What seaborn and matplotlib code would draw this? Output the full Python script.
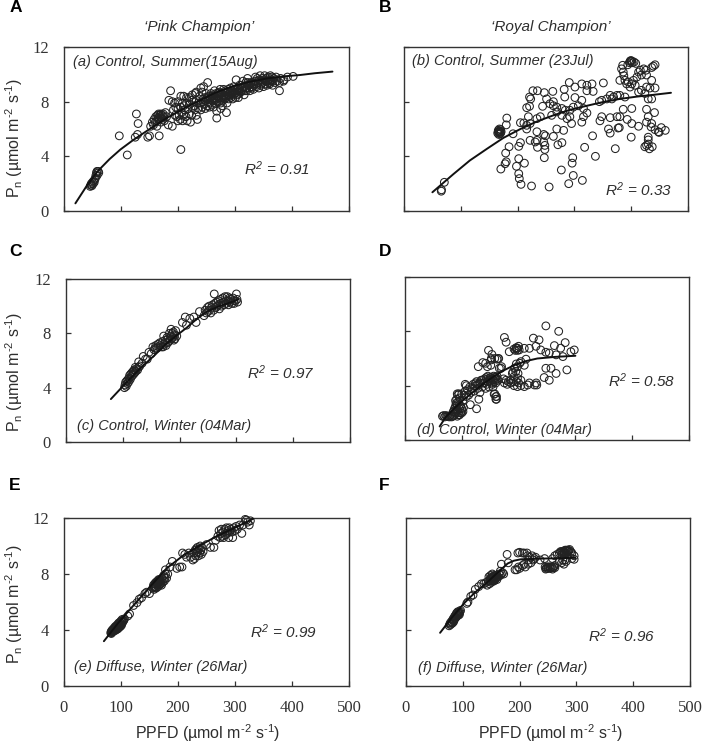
import matplotlib
matplotlib.use("Agg")
import matplotlib.pyplot as plt
import pandas as pd
import seaborn as sns

sns.set_theme(style="white")
plt.rcParams["font.family"] = ["Liberation Sans", "DejaVu Sans"]
plt.rcParams["mathtext.fontset"] = "custom"
plt.rcParams["mathtext.rm"] = "Liberation Sans"
plt.rcParams["mathtext.it"] = "Liberation Sans:italic"
plt.rcParams["mathtext.default"] = "regular"

# ---- data: (PPFD, Pn) ----
pts_a = [(46,1.8),(47,1.9),(48,2.0),(49,1.85),(50,2.1),(51,2.0),(52,2.2),(53,2.1),(54,2.3),(55,2.4),(56,2.6),(57,2.8),(58,2.9),(60,2.9),(61,2.8),(58,2.6),
 (97,5.5),(111,4.1),(125,5.4),(127,7.1),(130,6.4),(129,5.6),(147,5.4),(150,5.5),(167,5.5),(205,4.5),(187,8.8),(184,8.1),(190,8.0),(194,7.9),(196,7.6),(210,8.4),(220,8.3),(240,9.0),(252,9.4),(245,9.1),(268,6.8),(285,7.2),(275,7.5),
 (152,6.2),(155,6.5),(157,6.3),(158,6.7),(160,6.5),(161,6.9),(163,6.6),(164,7.0),(165,6.8),(166,7.1),(167,6.7),(168,7.0),(169,6.9),(170,7.1),(171,6.8),(172,7.0),(173,6.7),(174,7.1),(175,6.9),(176,6.6),(163,6.2),(170,6.5),(178,7.2),(180,6.9),(183,6.3),(190,6.2),
 (192,7.4),(195,7.0),(198,6.9),(200,6.6),(202,7.0),(204,6.7),(206,7.2),(208,6.6),(210,7.0),(212,7.4),(214,6.9),(216,6.6),(218,7.5),(220,7.1),(222,6.5),(224,7.0),(226,7.6),(228,8.0),(230,7.4),(232,7.0),(234,6.7),(236,7.9),(238,8.4),(230,8.6),(225,8.5),(232,8.7),(242,8.7),(244,8.2),(246,7.8),(248,7.5),(250,8.2),(252,7.7),(254,8.4),(256,7.9),(258,8.6),(260,8.1),(262,7.6),(264,8.8),(266,8.3),(268,7.3),(270,8.6),(272,8.0),(274,8.9),(276,8.3),(278,7.7),(280,8.9),(282,8.2),(284,8.6),(286,7.9),(288,8.9),(290,8.4),(292,9.0),(294,8.6),(296,8.2),(298,9.1),(300,8.6),(302,9.6),(304,8.9),(306,8.3),(308,9.2),(310,8.7),(312,9.0),(314,9.5),(316,8.5),(318,9.1),(320,8.8),(322,9.7),(324,9.2),(326,8.8),(328,9.4),(330,9.0),(332,8.9),(334,9.3),(336,9.8),(338,9.1),(340,9.5),(342,9.0),(344,9.9),(346,9.3),(348,9.7),(350,9.1),(352,9.9),(354,9.5),(356,9.2),(358,9.8),(360,9.4),(362,9.9),(364,9.6),(366,9.2),(368,9.7),(370,9.4),(372,9.8),(374,9.5),(378,9.4),(380,9.7),(386,9.6),(378,8.8),(392,9.8),(402,9.85),(385,9.5),
 (240,7.9),(244,8.0),(247,8.3),(249,8.6),(253,8.0),(255,7.6),(257,8.3),(259,7.8),(261,8.5),(263,8.2),(265,7.9),(267,8.6),(269,8.0),(271,8.4),(273,8.7),(275,7.9),(277,8.6),(279,8.1),(281,8.5),(283,8.8),(285,8.3),(287,8.7),(289,8.2),(291,8.7),(293,8.3),(295,8.8),(297,8.5),(299,8.9),(301,8.3),(303,8.7),(305,9.0),(307,8.6),(309,8.9),(311,9.2),(313,8.8),(315,9.1),(317,8.8),(319,9.4),(321,9.0),(323,9.4),(325,9.0),(327,9.3),(329,9.1),(331,9.4),(333,9.2),(335,9.5),(337,9.3),(339,9.7),(341,9.4),(343,9.6),(345,9.2),(347,9.5),(349,9.4),(351,9.6),(353,9.3),(355,9.7),(357,9.5),(359,9.6),(361,9.3),(363,9.5),(365,9.8),(367,9.5),
 (200,7.5),(205,7.6),(210,7.7),(215,7.9),(220,7.8),(224,8.1),(228,7.7),(232,8.1),(236,7.5),(240,7.4),(243,7.6),(200,8.0),(208,7.9),(215,8.3),(205,8.4),
 (248,8.1),(252,8.3),(256,8.2),(260,8.4),(264,8.1),(268,8.2),(272,8.3),(276,8.6),(280,8.3),(284,8.4),(288,8.5),(292,8.5),(296,8.7),(300,8.8),(304,8.5),(308,8.8)]

pts_b = [(66,1.55),(65.6,1.45),(71,2.1),(165,5.7),(166,5.9),(167,5.8),(168,5.75),(169,5.85),(170,5.7),(168,6.0),(167,5.6),(166,5.8),(169,5.65),(170,5.95),(171,5.8),(181,6.8),(180,6.3),(192,5.65),
 (170.5,3.07),(179,4.24),(185,4.7),(178,3.46),(180,3.6),(198,3.27),(202,3.83),(212,3.5),(202,2.73),(203,2.37),(206,1.95),(224.5,1.83),(255.5,1.76),(290,2.0),(298,2.6),(314,2.24),(277,3.0),(296,3.5),(297,3.9),(247,3.9),(248,4.5),(235,4.66),(202,4.73),(205,5.0),(271,4.85),(278,5.0),(318,4.66),(337,4.0),(372,4.56),(332,5.5),(400,5.4),(363,5.7),(360,6.0),(377,6.07),(379,6.1),(413,6.2),(401,6.4),(393,6.7),(386,7.44),(401,7.5),(427,7.44),(441,7.2),(430,6.9),(427,6.5),(436,6.4),(442,5.95),(448,5.8),(453,6.1),(460,5.9),(449,5.75),(435,6.15),(430,5.4),(430,5.2),(424,4.7),(432,4.55),(437,4.7),(427,4.8),(430,4.9),
 (227,8.8),(235,8.8),(247,8.66),(262,8.75),(282,8.9),(291,9.4),(301,9.07),(313,9.3),(322,9.2),(331,9.3),(351,9.37),(322,8.8),(333,8.75),(283,8.34),(301,8.3),(313,8.1),(221,8.34),(223,8.2),(251,8.2),(263,8.0),(216,7.56),(221,7.66),(244,7.66),(257,7.85),(263,7.7),(269,7.6),(278,7.5),(284,7.37),(292,7.37),(298,7.6),(307,7.7),(316,7.5),(322,7.17),(316,6.9),(292,6.9),(287,6.76),(278,7.0),(269,7.25),(260,7.0),(240,6.9),(234,6.76),(219,6.9),(205,6.46),(211,6.44),(216,6.27),(222,6.4),(234,5.8),(216,6.0),(269,6.0),(281,5.9),(295,6.4),(313,6.5),(345,6.6),(348,6.9),(363,6.83),(375,6.9),(380,6.9),
 (222,5.17),(231,5.05),(234,5.17),(246,5.6),(249,5.5),(263,5.46),(246,5.05),(248,4.8),(344,8.0),(348,8.1),(363,8.46),(366,8.2),(369,8.34),(375,8.46),(380,8.46),(389,8.34),(357,8.2),
 (398,10.95),(399,11.0),(400,11.0),(401,10.95),(397,10.85),(402,10.85),(394,10.7),(405,10.9),(408,10.8),(385,10.66),(383,10.4),(386,10.17),(387,9.9),(380,9.56),(389,9.56),(392,9.3),(395,9.44),(398,9.07),(401,9.3),(407,9.2),(404,9.56),(410,9.8),(413,10.17),(416,10.3),(422,10.4),(426,10.3),(418,9.95),(427,9.95),(436,9.56),(439,10.6),(442,10.7),(436,10.5),(427,9.07),(433,9.0),(442,9.0),(418,8.83),(413,8.7),(424,8.6),(430,8.2),(436,8.2)]

pts_c = [(103,4.0),(104,4.2),(105,4.4),(106,4.1),(107,4.5),(108,4.3),(109,4.6),(110,4.4),(111,4.7),(112,4.9),(113,4.6),(114,5.0),(115,4.8),(116,5.1),(117,4.9),(118,5.2),(119,5.0),(120,5.3),(121,5.1),(122,5.5),(123,5.2),(124,5.4),(126,5.3),(128,5.5),(130,5.6),(128,5.9),(134,5.8),(136,6.3),(140,6.1),(143,6.1),(146,6.6),(150,6.5),(153,7.0),(155,6.8),(157,6.9),(158,7.1),(160,6.9),(162,7.2),(163,7.0),(165,7.3),(166,7.1),(168,7.0),(170,7.4),(171,7.0),(172,7.8),(173,7.2),(175,7.5),(176,7.1),(178,7.7),(179,7.3),(180,7.6),(181,7.4),(182,8.0),(183,7.5),(184,7.8),(185,8.3),(186,7.6),(187,8.0),(188,7.7),(189,8.1),(190,7.5),(191,7.9),(192,7.6),(193,8.2),(195,7.8),(205,8.8),(210,9.2),(212,8.6),(218,9.1),(225,9.2),(229,8.8),(235,9.6),(243,9.3),(245,9.7),(247,9.5),(249,9.9),(250,9.6),(252,10.0),(253,9.7),(255,9.5),(256,9.9),(258,10.1),(260,9.7),(261,10.9),(262,10.2),(264,9.9),(265,10.3),(266,10.0),(268,10.4),(269,10.1),(270,9.8),(272,10.5),(273,10.2),(274,10.0),(276,10.6),(277,10.3),(278,10.1),(280,10.7),(281,10.4),(282,10.2),(284,10.7),(285,10.4),(286,10.1),(288,10.6),(289,10.3),(290,10.5),(292,10.2),(294,10.6),(295,10.4),(296,10.2),(298,10.4),(300,10.9),(301,10.5),(302,10.3)]

pts_d = [(66,1.75),(68,1.8),(70,1.7),(72,1.8),(74,1.75),(76,1.75),(78,1.7),(80,1.8),(82,1.7),(84,1.75),(86,1.8),(88,1.9),(85,2.1),(87,2.3),(89,2.5),(90,2.7),(92,2.2),(94,2.0),(96,1.85),(98,2.0),(100,2.0),(102,2.1),(91,3.0),(93,3.3),(95,3.4),(89,2.9),(92,2.6),(126,2.3),
 (92,3.4),(96,3.1),(100,3.4),(102,2.9),(104,3.3),(106,3.6),(108,3.2),(110,3.7),(112,3.3),(114,3.9),(108,4.0),(106,4.1),(116,3.5),(118,3.8),(120,4.1),(122,3.6),(124,4.0),(126,4.3),(128,3.8),(130,4.1),(132,3.5),(134,4.4),(136,3.9),(138,4.2),(140,4.5),(142,3.8),(144,4.1),(146,4.5),(148,3.9),(150,4.3),(152,4.6),(154,4.1),(156,4.4),(158,4.6),(160,4.2),(162,4.5),(155,3.9),(158,3.4),(160,3.2),(161,3.0),(115,2.6),(130,3.0),(103,2.4),
 (129,5.4),(137,5.7),(145,5.4),(152,5.9),(147,6.6),(153,6.3),(158,6.0),(162,5.95),(165,6.0),(170,5.4),(175,7.55),(178,7.2),(183.5,6.5),(192,6.7),(198,6.75),(201,6.63),(196,6.75),(210,6.75),(219,6.75),(226,7.5),(236,7.37),(230.6,6.9),(239,6.63),(248,6.46),(254,6.4),(248,8.4),(270.6,8.0),(282,7.17),(263,6.95),(274,6.76),(298,6.63),(292,6.5),(278,6.14),(266,6.27),(248,5.28),(257,5.28),(266,4.9),(285,5.16),(245,4.6),(254,4.4),(231,4.2),(219,4.2),
 (202,5.65),(198,5.4),(195,5.04),(192,4.67),(198,4.55),(204,4.4),(210,5.5),(213,5.95),(204,5.77),(189,4.9),
 (175,4.2),(180,4.1),(186,4.2),(192,4.0),(198,3.93),(204,4.0),(210,3.93),(216,4.05),(186,4.4),(178,4.4),(173.5,4.5),(228,4.05),(232,4.05),(169,5.28),(164,6.0),(152,6.0),(151,5.5),(142,5.65),(166,5.28),(161,3.2),(160,3.0),(157,3.37),
 (92,1.75),(94,1.85),(96,2.3),(98,2.5),(100,2.3),(94,2.8),(96,2.6),(90,2.0),(88,2.2),(148,4.4),(150,4.6),(152,4.2),(154,4.5),(156,4.7),(158,4.3),(160,4.6),(162,4.7),(164,4.4),(145,4.3),(143,4.6),(146,4.7),(140,4.2),(136,4.4),(132,4.2),(128,4.1),(124,4.2),(196,6.8),(198,6.6),(200,6.9),(194,6.6),(190,5.0),(193,5.3),(196,5.6),(199,4.9),(196,4.3),(200,4.2),(190,4.3),(182,4.3)]

pts_e = [(82,3.8),(83,3.9),(84,3.85),(85,4.0),(86,3.9),(87,4.05),(88,4.0),(89,4.1),(90,4.05),(91,4.15),(92,4.1),(93,4.2),(94,4.25),(95,4.2),(96,4.35),(97,4.3),(98,4.4),(99,4.4),(100,4.5),(101,4.45),(102,4.6),(103,4.55),(104,4.65),(105,4.7),(106,4.8),(112,5.0),(115,5.15),(122,5.75),(128,5.95),(132,6.2),(136,6.3),(142,6.6),(145,6.7),(150,6.6),
 (156,7.0),(157,7.2),(158,6.9),(159,7.3),(160,7.1),(161,7.4),(162,7.0),(163,7.3),(164,7.5),(165,7.1),(166,7.4),(167,7.2),(168,7.6),(169,7.3),(170,7.5),(171,7.2),(172,7.7),(173,7.4),(174,7.6),(175,7.9),(176,7.5),(177,7.7),(178,8.0),(180,7.7),(182,8.0),(178,8.3),(186,8.5),(190,8.9),(198,8.4),(203,8.5),(207,8.5),(208,9.5),(212,9.4),(215,9.2),(219,9.5),(222,9.2),(226,9.0),(228,9.5),(229,9.1),(230,9.7),(231,9.3),(232,9.8),(233,9.5),(234,9.9),(235,9.6),(236,9.3),(237,9.8),(238,9.5),(239,10.0),(240,9.7),(241,9.4),(242,9.9),(244,9.6),(250,10.1),(257,9.9),(263,9.9),(266,10.4),(270,10.7),(272,11.1),(274,10.6),(275,10.9),(276,11.2),(278,10.7),(279,11.0),(280,10.6),(282,11.2),(283,10.8),(285,11.3),(286,10.9),(288,11.1),(289,10.6),(290,11.3),(291,11.0),(293,11.2),(295,11.0),(296,10.6),(298,11.3),(300,11.1),(302,11.4),(304,11.2),(308,11.5),(312,10.9),(314,11.5),(318,11.9),(320,11.85),(322,11.7),(325,11.5),(327,11.8),
 (84,3.95),(86,4.05),(88,4.15),(90,4.25),(92,4.3),(94,4.4),(96,4.5),(98,4.55),(100,4.65),(102,4.75),(83,3.75),(85,3.85),(87,3.95),(89,3.95),(91,4.0),(93,4.05),(95,4.1),(97,4.2),(99,4.25),(101,4.35),(160,7.3),(162,7.4),(164,7.3),(166,7.6),(168,7.4),(170,7.3),(158,7.1),(160,7.0)]

pts_f = [(76,4.3),(77,4.4),(78,4.5),(79,4.4),(80,4.6),(81,4.5),(82,4.7),(83,4.8),(84,4.7),(85,4.9),(86,5.0),(87,4.9),(88,5.1),(89,5.2),(90,5.1),(91,5.3),(92,5.2),(93,5.3),(94,5.1),(95,5.3),
 (107,5.9),(109,6.0),(114,6.4),(118,6.5),(122,6.9),(128,7.1),(133,7.3),(137,7.3),(141,7.4),(143,7.2),(145,7.5),(146,7.8),(147,7.3),(148,7.6),(149,7.9),(150,7.4),(151,7.7),(152,8.0),(153,7.5),(154,7.8),(155,7.5),(156,7.9),(157,7.6),(158,7.9),(160,7.6),(162,7.8),(164,8.0),(166,7.9),(168,8.0),(170,8.1),(172,8.0),(166,8.2),
 (168,8.7),(178,9.4),(180,8.8),(192,8.3),(195,8.3),(198,8.5),(200,8.4),(205,8.6),(208,8.7),(210,8.5),(197,9.5),(200,9.55),(205,9.5),(208,9.5),(213,9.5),(214,9.3),(216,9.0),(218,9.2),(220,8.8),(215,8.7),(222,9.3),(224,9.0),(226,9.1),(228,9.2),(236,9.0),(244,9.1),(245,8.5),(247,8.4),(248,8.5),(250,8.4),(252,8.5),(254,8.4),(256,8.5),(258,8.45),(260,8.5),(262,8.6),(258,9.1),(262,9.3),(266,9.4),(270,9.5),(272,9.6),(274,9.4),(276,9.6),(278,9.5),(280,9.7),(282,9.5),(284,9.7),(286,9.6),(288,9.75),(290,9.6),(292,9.5),(270,8.9),(274,8.8),(276,9.0),(278,8.7),(280,9.0),(282,8.9),(292,9.1),(296,9.05),(296,9.3),
 (86,4.8),(88,4.9),(90,5.0),(92,5.05),(94,5.2),(96,5.4),(82,4.5),(84,4.6),(148,7.5),(150,7.7),(152,7.8),(154,7.6),(156,7.7),(158,7.7),(160,7.9),(149,7.7),(151,7.5),(153,7.8),(278,9.6),(280,9.5),(282,9.7),(284,9.6),(286,9.7),(274,9.6),(246,8.35),(250,8.5),(254,8.5),(258,8.35),(262,8.45)]

fit_a = [(20,0.56),(40,1.85),(60,2.95),(80,3.8),(99,4.5),(120,5.15),(145,5.85),(180,6.8),(210,7.5),(239,8.1),(265,8.65),(297,9.15),(325,9.45),(356,9.7),(385,9.85),(414,9.95),(440,10.08),(471,10.2)]
fit_b = [(50,1.37),(87,2.7),(116,3.7),(146,4.55),(175,5.35),(205,6.0),(234,6.55),(263,7.0),(292,7.4),(322,7.7),(351,7.98),(380,8.2),(410,8.37),(439,8.5),(470,8.65)]
fit_c = [(79,3.16),(100,4.1),(130,5.4),(155,6.35),(177,7.25),(195,7.85),(212,8.4),(230,9.05),(248,9.6),(270,10.0),(295,10.35),(303,10.5)]
fit_d = [(61,1.0),(72,1.7),(86,2.3),(100,2.85),(116,3.4),(135,4.05),(157,4.7),(175,5.15),(192,5.5),(212,5.8),(233,6.0),(265,6.12),(300,6.2)]
fit_e = [(70,3.2),(95,4.5),(122,5.76),(150,7.05),(180,8.4),(210,9.35),(239,10.05),(268,10.7),(297,11.25),(332,11.95)]
fit_f = [(60,3.8),(80,4.85),(102,5.9),(122,6.7),(143,7.4),(160,8.05),(179,8.75),(190,8.95),(202,9.05),(237,9.1),(298,9.15)]

x_ticks = [0, 100, 200, 300, 400, 500]
y_ticks = [0, 4, 8, 12]
cultivars = ["\u2018Pink Champion\u2019", "\u2018Royal Champion\u2019"]
x_label = "PPFD (\u00b5mol m$^{\\text{-}2}$ s$^{\\text{-}1}$)"
y_label = "P$_{n}$ (\u00b5mol m$^{\\text{-}2}$ s$^{\\text{-}1}$)"

W, H = 707, 748
INK = "#2e2e2e"
fig = plt.figure(figsize=(W / 100, H / 100), dpi=100, facecolor="white")

panels = [
 (pts_a, fit_a, (64, 47, 349, 211), "(a) Control, Summer(15Aug)", (73, 62), "0.91", (244, 169), "A", (10, 8), 138, None),
 (pts_b, fit_b, (404, 47, 688, 211), "(b) Control, Summer (23Jul)", (412, 61), "0.33", (605, 190), "B", (379, 8), None, None),
 (pts_c, fit_c, (66, 279, 350, 442), "(c) Control, Winter (04Mar)", (77, 426), "0.97", (247, 373), "C", (9, 251), 372, None),
 (pts_d, fit_d, (405, 277, 689, 440), "(d) Control, Winter (04Mar)", (417, 430), "0.58", (608, 381), "D", (379, 251), None, None),
 (pts_e, fit_e, (64, 518, 349, 686), "(e) Diffuse, Winter (26Mar)", (74, 667), "0.99", (250, 632), "E", (9, 485), 604, 208),
 (pts_f, fit_f, (406, 518, 690, 686), "(f) Diffuse, Winter (26Mar)", (418, 668), "0.96", (588, 636), "F", (379, 485), None, 551),
]


def fig_text(x, y, s, **kw):
    kw.setdefault("va", "center")
    kw.setdefault("color", INK)
    fig.text(x / W, 1 - y / H, s, **kw)


for i, (pts, fit, box, cap, cap_xy, r2, r2_xy, letter, let_xy, yl, xl) in enumerate(panels):
    l, t, r, b = box
    ax = fig.add_axes([l / W, 1 - b / H, (r - l) / W, (b - t) / H])
    ax.set_facecolor("white")
    d = pd.DataFrame(pts, columns=["ppfd", "pn"])
    f = pd.DataFrame(fit, columns=["ppfd", "pn"])
    sns.scatterplot(data=d, x="ppfd", y="pn", ax=ax, s=31, marker="o", facecolor="none",
                    edgecolor="#222222", linewidth=0.75, legend=False, clip_on=False, zorder=2)
    sns.lineplot(data=f, x="ppfd", y="pn", ax=ax, color="#111111", linewidth=1.4, sort=False,
                 errorbar=None, estimator=None, legend=False, zorder=3)
    ax.set_xlim(0, 500)
    ax.set_ylim(0, 12)
    ax.set_xticks(x_ticks)
    ax.set_yticks(y_ticks)
    ax.grid(False)
    for sp in ax.spines.values():
        sp.set_visible(True)
        sp.set_color("#333333")
        sp.set_linewidth(1.0)
    ax.tick_params(axis="both", direction="in", length=3.5, width=0.9, color="#333333",
                   bottom=True, left=True, top=False, right=False)
    ax.tick_params(axis="y", pad=11, labelleft=i % 2 == 0)
    ax.tick_params(axis="x", pad=10, labelbottom=i >= 4)
    for lab in ax.get_xticklabels() + ax.get_yticklabels():
        lab.set_family("Liberation Serif")
        lab.set_fontsize(12)
        lab.set_color("#333333")
    ax.set_xlabel("")
    ax.set_ylabel("")
    fig_text(cap_xy[0], cap_xy[1], cap, fontsize=10.5, style="italic", ha="left")
    fig_text(r2_xy[0], r2_xy[1], "$\\mathit{R}^{2}$ = " + r2, fontsize=11, style="italic", ha="left")
    fig_text(let_xy[0], let_xy[1], letter, fontsize=12.5, fontweight="bold", ha="left", color="black")
    if yl is not None:
        fig_text(14, yl, y_label, fontsize=11.5, rotation=90, ha="center")
    if xl is not None:
        fig_text(xl, 733, x_label, fontsize=11.5, ha="center")

fig_text(199, 27, cultivars[0], fontsize=11, style="italic", ha="center")
fig_text(551, 27, cultivars[1], fontsize=11, style="italic", ha="center")

fig.savefig("out.png", dpi=100, facecolor="white")
